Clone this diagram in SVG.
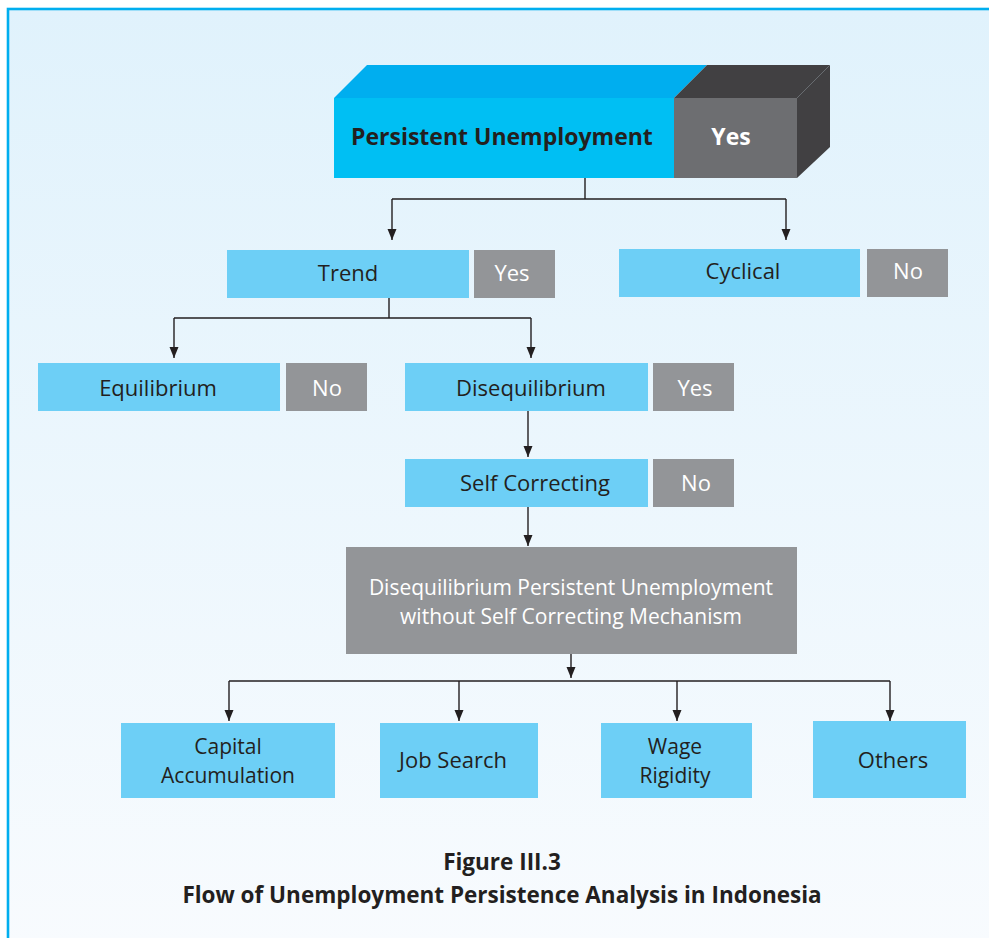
<svg xmlns="http://www.w3.org/2000/svg" width="989" height="938" viewBox="0 0 989 938">
<defs>
<linearGradient id="bg" x1="0" y1="0" x2="0" y2="1">
<stop offset="0" stop-color="#e0f2fc"/>
<stop offset="1" stop-color="#f8fbfe"/>
</linearGradient>
<style>
.blue{fill:#6dcff6}
.gray{fill:#939598}
.t{font-family:"Open Sans","Noto Sans",sans-serif;font-size:22px;text-anchor:middle}
.t2{font-size:21px}
.dk{fill:#231f20}
.wh{fill:#ffffff}
.b{font-weight:bold}
.ln{fill:none;stroke:#231f20;stroke-width:1.4}
</style>
</defs>
<rect x="0" y="0" width="989" height="938" fill="#ffffff"/>
<rect x="8" y="9" width="990" height="940" fill="url(#bg)" stroke="#00aeef" stroke-width="2.6"/>

<g id="connectors">
<g class="ln">
<path d="M585,178 V199 M392,199 H786"/>
<path d="M392,199 V240"/>
<path d="M786,199 V240"/>
<path d="M389,298 V318 M174,318 H531"/>
<path d="M174,318 V358"/>
<path d="M531,318 V358"/>
<path d="M528,411 V457"/>
<path d="M528,507 V546"/>
<path d="M571,654 V678"/>
<path d="M229,681 H890"/>
<path d="M229,681 V721"/>
<path d="M459,681 V721"/>
<path d="M677,681 V721"/>
<path d="M890,681 V721"/>
</g>
<g fill="#231f20">
<path d="M387.5,229 L396.5,229 L392,240 Z"/>
<path d="M781.5,229 L790.5,229 L786,240 Z"/>
<path d="M169.5,347 L178.5,347 L174,358 Z"/>
<path d="M526.5,347 L535.5,347 L531,358 Z"/>
<path d="M523.5,446 L532.5,446 L528,457 Z"/>
<path d="M523.5,535 L532.5,535 L528,546 Z"/>
<path d="M566.5,667 L575.5,667 L571,678 Z"/>
<path d="M224.5,710 L233.5,710 L229,721 Z"/>
<path d="M454.5,710 L463.5,710 L459,721 Z"/>
<path d="M672.5,710 L681.5,710 L677,721 Z"/>
<path d="M885.5,710 L894.5,710 L890,721 Z"/>
</g>
</g>

<g id="persistent">
<polygon points="334,98 367,65 707,65 674,98" fill="#00aeef"/>
<polygon points="674,98 707,65 830,65 797,98" fill="#414042"/>
<polygon points="797,98 830,65 830,147 797,178" fill="#414042"/>
<rect x="334" y="98" width="340" height="80" fill="#00bff3"/>
<rect x="674" y="98" width="123" height="80" fill="#6d6e71"/>
<text x="351" y="145" class="t dk b" style="text-anchor:start;font-size:23px">Persistent Unemployment</text>
<text x="731" y="145" class="t wh b" style="font-size:23px">Yes</text>
</g>

<g id="trend">
<rect x="227" y="250" width="242" height="48" class="blue"/>
<text x="348" y="281" class="t dk">Trend</text>
<rect x="474" y="250" width="81" height="48" class="gray"/>
<text x="512" y="281" class="t wh">Yes</text>
</g>

<g id="cyclical">
<rect x="619" y="249" width="241" height="48" class="blue"/>
<text x="743" y="279" class="t dk">Cyclical</text>
<rect x="867" y="249" width="81" height="48" class="gray"/>
<text x="908" y="279" class="t wh">No</text>
</g>

<g id="equilibrium">
<rect x="38" y="363" width="242" height="48" class="blue"/>
<text x="158" y="396" class="t dk">Equilibrium</text>
<rect x="286" y="363" width="81" height="48" class="gray"/>
<text x="327" y="396" class="t wh">No</text>
</g>

<g id="disequilibrium">
<rect x="405" y="363" width="243" height="48" class="blue"/>
<text x="531" y="396" class="t dk">Disequilibrium</text>
<rect x="653" y="363" width="81" height="48" class="gray"/>
<text x="695" y="396" class="t wh">Yes</text>
</g>

<g id="selfcorrecting">
<rect x="405" y="459" width="243" height="48" class="blue"/>
<text x="535" y="491" class="t dk">Self Correcting</text>
<rect x="653" y="459" width="81" height="48" class="gray"/>
<text x="696" y="491" class="t wh">No</text>
</g>

<g id="dpu">
<rect x="346" y="547" width="451" height="107" class="gray"/>
<text x="571" y="595" class="t t2 wh">Disequilibrium Persistent Unemployment</text>
<text x="571" y="624" class="t t2 wh">without Self Correcting Mechanism</text>
</g>

<g id="capital">
<rect x="121" y="723" width="214" height="75" class="blue"/>
<text x="228" y="754" class="t t2 dk">Capital</text>
<text x="228" y="783" class="t t2 dk">Accumulation</text>
</g>

<g id="jobsearch">
<rect x="380" y="723" width="158" height="75" class="blue"/>
<text x="453" y="768" class="t dk">Job Search</text>
</g>

<g id="wage">
<rect x="601" y="723" width="151" height="75" class="blue"/>
<text x="675" y="754" class="t t2 dk">Wage</text>
<text x="675" y="783" class="t t2 dk">Rigidity</text>
</g>

<g id="others">
<rect x="813" y="721" width="153" height="77" class="blue"/>
<text x="893" y="768" class="t dk">Others</text>
</g>

<g id="caption">
<text x="502" y="870" class="t dk b" style="font-size:22.5px">Figure III.3</text>
<text x="502" y="903" class="t dk b" style="font-size:22.5px">Flow of Unemployment Persistence Analysis in Indonesia</text>
</g>
</svg>
